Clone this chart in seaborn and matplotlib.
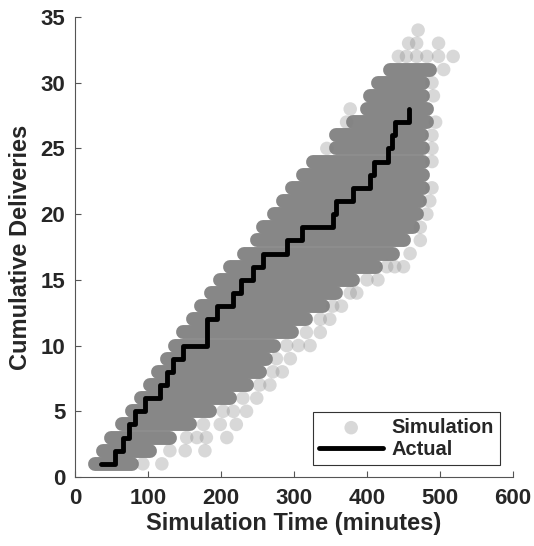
import numpy as np
import matplotlib
matplotlib.use("Agg")
import matplotlib.pyplot as plt
import seaborn as sns

# ── data ────────────────────────────────────────────────────────────
# simulated runs: dense core of each delivery level (min..max time, minutes)
core_level = [1, 2, 3, 4, 5, 6, 7, 8, 9, 10, 11, 12, 13, 14, 15, 16,
              17, 18, 19, 20, 21, 22, 23, 24, 25, 26, 27, 28, 29, 30, 31]
core_lo = [27, 39, 50, 64, 78, 91, 103, 114, 126, 137, 148, 162, 173, 187, 199, 212,
           231, 249, 258, 272, 285, 297, 313, 326, 358, 358, 381, 400, 404, 415, 432]
core_hi = [78, 103, 130, 158, 185, 212, 235, 253, 262, 272, 297, 317, 340, 358, 381, 413,
           436, 450, 463, 468, 473, 477, 477, 477, 477, 475, 482, 482, 477, 477, 486]

# sparse simulated runs outside the dense cores
fringe_t = [93, 119,
            130, 151, 178,
            153, 167, 180, 208,
            176, 199, 221,
            203, 217, 235,
            230, 249,
            253, 267,
            271, 284,
            276, 295,
            290, 306, 322,
            317, 336,
            336, 349,
            353, 365,
            377, 386,
            400, 415,
            427, 438, 450,
            459, 473, 473, 482, 486, 489, 489,
            345, 489, 489, 372, 494, 377, 491, 489, 505,
            443, 454, 468, 482, 498, 518,
            457, 468, 498,
            470]
fringe_n = [1, 1,
            2, 2, 2,
            3, 3, 3, 3,
            4, 4, 4,
            5, 5, 5,
            6, 6,
            7, 7,
            8, 8,
            9, 9,
            10, 10, 10,
            11, 11,
            12, 12,
            13, 13,
            14, 14,
            15, 15,
            16, 16, 16,
            17, 18, 19, 20, 21, 22, 24,
            25, 25, 26, 27, 27, 28, 29, 30, 31,
            32, 32, 32, 32, 32, 32,
            33, 33, 33,
            34]

# actual deliveries (step function)
actual_t = [35, 55, 66, 74, 82, 96, 116, 126, 134, 148, 181, 195, 216, 228,
            244, 258, 290, 311, 354, 358, 381, 404, 409, 429, 434, 438, 457]
actual_n = [1, 2, 3, 4, 5, 6, 7, 8, 9, 10, 12, 13, 14, 15,
            16, 17, 18, 19, 20, 21, 22, 23, 24, 25, 26, 27, 28]

# ── style ───────────────────────────────────────────────────────────
sns.set_style("ticks")
plt.rcParams['font.family'] = ['Liberation Sans', 'DejaVu Sans']
plt.rcParams['font.weight'] = 'bold'
plt.rcParams['axes.labelweight'] = 'bold'

fig = plt.figure(figsize=(5.34, 5.46), dpi=100)
ax = fig.add_axes([0.1404, 0.1264, 0.8203, 0.8425])

# dense part of the simulation cloud
ax.hlines(core_level, core_lo, core_hi, colors='#878787', linewidth=10,
          capstyle='round', zorder=1)

sns.scatterplot(x=fringe_t, y=fringe_n, s=95, color='#808080', alpha=0.3,
                edgecolor='none', label='Simulation', ax=ax, zorder=2)

sns.lineplot(x=actual_t, y=actual_n, drawstyle='steps-post', color='black',
             linewidth=3.5, sort=False, estimator=None, label='Actual',
             ax=ax, zorder=3)

ax.set_xlim(0, 600)
ax.set_ylim(0, 35)
ax.set_xticks(range(0, 601, 100))
ax.set_yticks(range(0, 36, 5))
ax.set_xlabel('Simulation Time (minutes)', fontsize=17, color='#262626', labelpad=2)
ax.set_ylabel('Cumulative Deliveries', fontsize=17, color='#262626', labelpad=6)
ax.tick_params(direction='in', length=4, width=0.8, color='#555555',
               labelsize=16, labelcolor='#262626')
ax.tick_params(axis='x', pad=8)
ax.tick_params(axis='y', pad=7)
for lab in ax.get_xticklabels() + ax.get_yticklabels():
    lab.set_fontweight('bold')
sns.despine(ax=ax)
for sp in ['left', 'bottom']:
    ax.spines[sp].set_color('#555555')
    ax.spines[sp].set_linewidth(0.8)

leg = ax.legend(loc='lower right', bbox_to_anchor=(0.970, 0.026), borderaxespad=0,
                fancybox=False, edgecolor='#333333', framealpha=1,
                prop={'size': 14.5, 'weight': 'bold'}, handlelength=3.2,
                handletextpad=0.4, borderpad=0.3, labelspacing=0.15)
leg.get_frame().set_linewidth(0.8)

fig.savefig('out.png', dpi=100)
